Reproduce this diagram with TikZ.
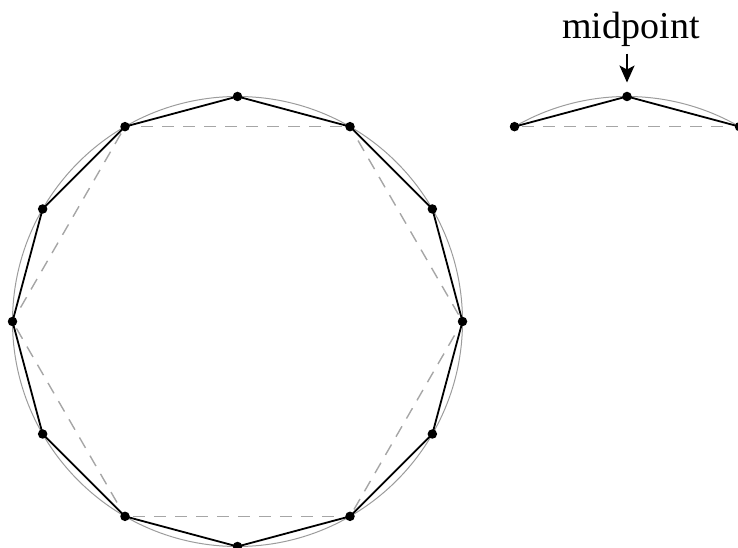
\documentclass[tikz,border=0pt]{standalone}
\usepackage{fontspec}
\setmainfont{Liberation Serif}
\usetikzlibrary{arrows.meta,positioning,calc}
\definecolor{ringGray}{HTML}{9C9C9C}
\definecolor{chordGray}{HTML}{A6A6A6}

\begin{document}
\begin{tikzpicture}[x=1pt,y=1pt,
   dot/.style={circle,fill=black,inner sep=0pt,minimum size=9.5pt},
   ring/.style={draw=ringGray,line width=1pt},
   side/.style={black,line width=1.8pt},
   chord/.style={draw=chordGray,line width=1.4pt,dash pattern=on 12pt off 9pt}]
  \useasboundingbox (0,0) rectangle (738,548);
  % full circle with hexagon and dodecagon
  \coordinate (c) at (237.5,226.5);
  \draw[ring] (c) circle[radius=225];
  \foreach \i in {0,...,11}
    \node[dot] (v\i) at ([shift={(30*\i:225)}]c) {};
  \foreach \i/\j in {0/2,2/4,4/6,6/8,8/10,10/0}
    \draw[chord,shorten <=3pt,shorten >=3pt] (v\i) -- (v\j);
  \foreach \i in {0,...,11}{
    \pgfmathtruncatemacro\j{mod(\i+1,12)}
    \draw[side] (v\i.center) -- (v\j.center);
  }
  % single refined edge
  \coordinate (c2) at (627,226.5);
  \draw[ring] ([shift={(60:225)}]c2) arc[start angle=60,end angle=120,radius=225];
  \node[dot] (m0) at ([shift={(60:225)}]c2) {};
  \node[dot] (m1) at ([shift={(90:225)}]c2) {};
  \node[dot] (m2) at ([shift={(120:225)}]c2) {};
  \draw[chord,shorten <=3pt,shorten >=3pt] (m2) -- (m0);
  \draw[side] (m2.center) -- (m1.center) -- (m0.center);
  \node[font=\fontsize{38}{44}\selectfont,anchor=base] (lbl) at (631,509) {midpoint};
  \draw[-{Stealth[length=17pt,width=15pt,inset=4pt]},line width=2pt,shorten <=3pt,shorten >=9pt]
    (lbl.south -| m1) -- (m1);
\end{tikzpicture}
\end{document}
